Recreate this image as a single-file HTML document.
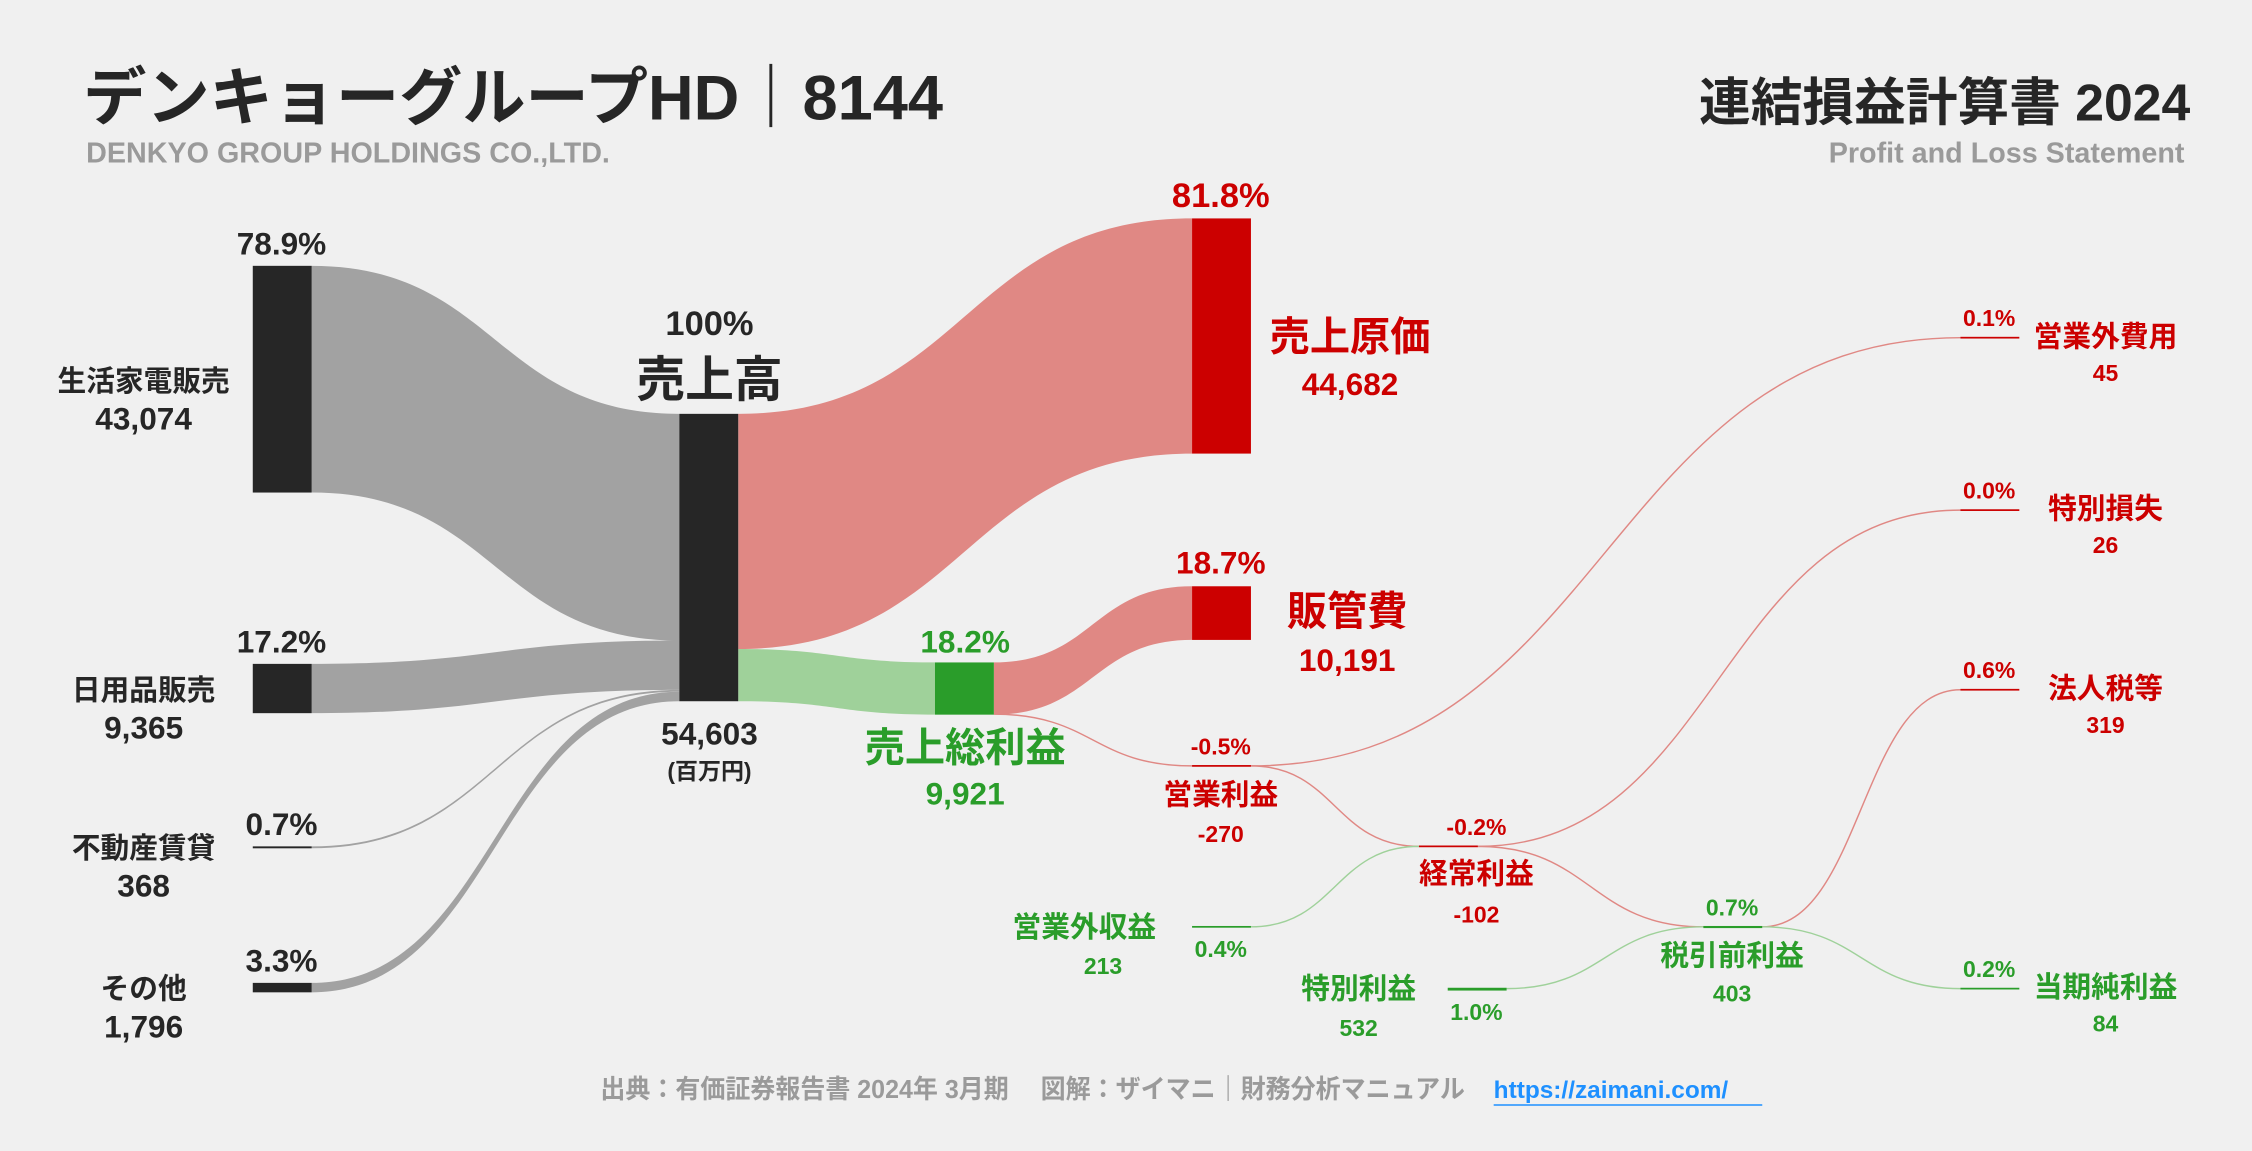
<!DOCTYPE html>
<html><head><meta charset="utf-8">
<style>
html,body{margin:0;padding:0;background:#f0f0f0;}
svg{display:block;}
text{font-family:"Liberation Sans","Noto Sans CJK JP",sans-serif;font-weight:bold;}
</style></head>
<body>
<svg id="chart" width="2252" height="1151" viewBox="0 0 1568 801" preserveAspectRatio="none" xmlns="http://www.w3.org/2000/svg">
<rect width="1568" height="801" fill="#f0f0f0"/>
<text x="58" y="83" font-size="44" fill="#262626">デンキョーグループHD｜8144</text>
<text x="60" y="113" font-size="20" fill="#9a9a9a">DENKYO GROUP HOLDINGS CO.,LTD.</text>
<text x="1525" y="84" font-size="36" fill="#262626" text-anchor="end">連結損益計算書 2024</text>
<text x="1521" y="113" font-size="20" fill="#9a9a9a" text-anchor="end">Profit and Loss Statement</text>
<g id="flows"></g><g id="nodes"></g><g id="labels"></g>
<text x="418" y="764" font-size="18" fill="#9a9a9a" textLength="602" lengthAdjust="spacingAndGlyphs">出典：有価証券報告書 2024年 3月期　 図解：ザイマニ｜財務分析マニュアル</text>
<text x="1040" y="764" font-size="17" fill="#1e90ff">https://zaimani.com/</text>
<line x1="1040" y1="769" x2="1227" y2="769" stroke="#1e90ff" stroke-width="1"/>
</svg>
<script>
const segNames=["生活家電販売","日用品販売","不動産賃貸","その他"];
const segValues=[43074,9365,368,1796];
const segPct=["78.9%","17.2%","0.7%","3.3%"];
const revenue=54603;
const costNames=["売上原価","販管費"];
const costValues=[44682,10191];
const costPct=["81.8%","18.7%"];
const grossProfit=9921, grossPct="18.2%";
const smallNames=["営業利益","経常利益","税引前利益","営業外収益","特別利益","営業外費用","特別損失","法人税等","当期純利益"];
const smallValues=[-270,-102,403,213,532,45,26,319,84];
const smallPct=["-0.5%","-0.2%","0.7%","0.4%","1.0%","0.1%","0.0%","0.6%","0.2%"];

const NS="http://www.w3.org/2000/svg";
const F=document.getElementById('flows'),N=document.getElementById('nodes'),L=document.getElementById('labels');
const k=200/revenue;
const h=v=>Math.abs(v)*k;
const fmt=v=>v.toLocaleString('en-US');
function mk(tag,attrs,parent){const e=document.createElementNS(NS,tag);for(const a in attrs)e.setAttribute(a,attrs[a]);parent.appendChild(e);return e;}
function band(x0,a0,b0,x1,a1,b1,col,name){
  const m=(x0+x1)/2;
  const p=mk('path',{d:`M${x0},${a0}C${m},${a0} ${m},${a1} ${x1},${a1}L${x1},${b1}C${m},${b1} ${m},${b0} ${x0},${b0}Z`,fill:col},F);
  
  
}
function thin(x0,y0,x1,y1,col,name){
  const m=(x0+x1)/2;
  const p=mk('path',{d:`M${x0},${y0}C${m},${y0} ${m},${y1} ${x1},${y1}`,fill:'none',stroke:col,'stroke-width':1},F);
  
  
}
function rect(x,y,w,hh,col,name){
  const r=mk('rect',{x:x,y:y,width:w,height:Math.max(hh,1.2),fill:col},N);
  
  
}
function txt(x,y,s,size,col,anchor,name){
  const t=mk('text',{x:x,y:y,'font-size':size,fill:col,'text-anchor':anchor||'middle'},L);
  t.textContent=s;
  
  
}
const DK='#262626',RED='#cc0000',GRN='#2a9d2a',GF='#a2a2a2',RF='#e08884',GRF='#9fd19a';
const segTops=[185,462,589,684];
let cy=288;
segValues.forEach((v,i)=>{
  const hh=h(v);
  rect(176,segTops[i],41,hh,DK,'segment-bar-'+i);
  band(217,segTops[i],segTops[i]+hh,473,cy,cy+hh,GF,'segment-flow-'+i);
  cy+=hh;
  txt(196,segTops[i]-8,segPct[i],22,DK,'middle','segment-pct-'+i);
});
txt(100,272,segNames[0],20,DK,'middle','segment-name-0');txt(100,299,fmt(segValues[0]),22,DK,'middle','segment-value-0');
txt(100,487,segNames[1],20,DK,'middle','segment-name-1');txt(100,514,fmt(segValues[1]),22,DK,'middle','segment-value-1');
txt(100,597,segNames[2],20,DK,'middle','segment-name-2');txt(100,624,fmt(segValues[2]),22,DK,'middle','segment-value-2');
txt(100,695,segNames[3],20,DK,'middle','segment-name-3');txt(100,722,fmt(segValues[3]),22,DK,'middle','segment-value-3');
rect(473,288,41,h(revenue),DK,'revenue-bar');
txt(494,233,'100%',24,DK,'middle','revenue-pct');
txt(494,276,'売上高',34,DK,'middle','revenue-name');
txt(494,518,fmt(revenue),22,DK,'middle','revenue-value');
txt(494,542,'(百万円)',16,DK,'middle','revenue-unit');
const c0=h(costValues[0]);
band(514,288,288+c0,830,152,152+c0,RF,'cogs-flow');
rect(830,152,41,c0,RED,'cogs-bar');
txt(850,144,costPct[0],24,RED,'middle','cogs-pct');
txt(940,244,costNames[0],28,RED,'middle','cogs-name');
txt(940,275,fmt(costValues[0]),22,RED,'middle','cogs-value');
const gh=h(grossProfit);
band(514,288+c0,288+c0+gh,651,461,461+gh,GRF,'gross-flow');
rect(651,461,41,gh,GRN,'gross-bar');
txt(672,454,grossPct,22,GRN,'middle','gross-pct');
txt(672,530,'売上総利益',28,GRN,'middle','gross-name');
txt(672,560,fmt(grossProfit),22,GRN,'middle','gross-value');
const sh=h(costValues[1]);
band(692,461,461+gh,830,408,408+sh,RF,'sga-flow');
rect(830,408,41,sh,RED,'sga-bar');
txt(850,399,costPct[1],22,RED,'middle','sga-pct');
txt(938,435,costNames[1],28,RED,'middle','sga-name');
txt(938,467,fmt(costValues[1]),22,RED,'middle','sga-value');
const sm=[
 {x:830,y:533,c:RED},{x:988,y:589,c:RED},{x:1186,y:645,c:GRN},
 {x:830,y:645,c:GRN},{x:1008,y:688,c:GRN},
 {x:1365,y:235,c:RED},{x:1365,y:355,c:RED},{x:1365,y:480,c:RED},{x:1365,y:688,c:GRN}];
sm.forEach((s,i)=>{rect(s.x,s.y-0.6,41,h(smallValues[i]),s.c,'small-bar-'+i);});
thin(692,497,830,533,RF,'op-income-flow');
thin(871,533,1365,235,RF,'nonop-expense-flow');
thin(871,533,988,589,RF,'op-to-ordinary-flow');
thin(871,645,988,589,GRF,'nonop-income-flow');
thin(1029,589,1365,355,RF,'special-loss-flow');
thin(1029,589,1186,645,RF,'ordinary-to-pretax-flow');
thin(1049,688,1186,645,GRF,'special-gain-flow');
thin(1227,645,1365,480,RF,'tax-flow');
thin(1227,645,1365,688,GRF,'net-income-flow');
txt(850,525,smallPct[0],16,RED,'middle','op-pct');
txt(850,560,smallNames[0],20,RED,'middle','op-name');txt(850,586,fmt(smallValues[0]),16,RED,'middle','op-value');
txt(1028,581,smallPct[1],16,RED,'middle','ord-pct');
txt(1028,615,smallNames[1],20,RED,'middle','ord-name');txt(1028,642,fmt(smallValues[1]),16,RED,'middle','ord-value');
txt(1206,637,smallPct[2],16,GRN,'middle','pre-pct');
txt(1206,672,smallNames[2],20,GRN,'middle','pre-name');txt(1206,697,fmt(smallValues[2]),16,GRN,'middle','pre-value');
txt(850,666,smallPct[3],16,GRN,'middle','nonopinc-pct');
txt(755,652,smallNames[3],20,GRN,'middle','nonopinc-name');txt(768,678,fmt(smallValues[3]),16,GRN,'middle','nonopinc-value');
txt(1028,710,smallPct[4],16,GRN,'middle','special-gain-pct');
txt(946,695,smallNames[4],20,GRN,'middle','special-gain-name');txt(946,721,fmt(smallValues[4]),16,GRN,'middle','special-gain-value');
const rx=1466,rlab=[[5,235,RED],[6,355,RED],[7,480,RED],[8,688,GRN]];
rlab.forEach(([i,y,c])=>{
  txt(1385,y-8,smallPct[i],16,c,'middle','right-pct-'+i);
  txt(rx,y+6,smallNames[i],20,c,'middle','right-name-'+i);
  txt(rx,y+30,fmt(smallValues[i]),16,c,'middle','right-value-'+i);
});
</script>
</body></html>
